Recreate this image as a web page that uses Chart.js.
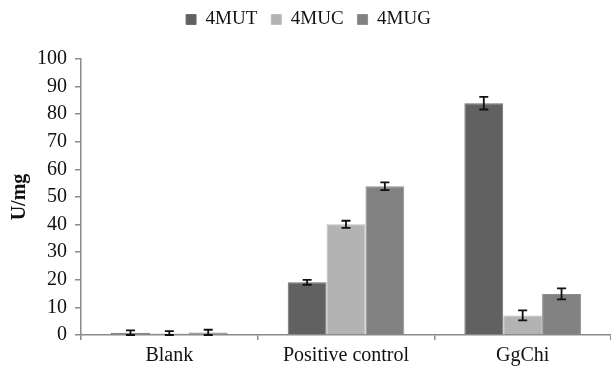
<!DOCTYPE html>
<html>
<head>
<meta charset="utf-8">
<script src="https://cdn.jsdelivr.net/npm/chart.js@4"></script>
<style>
html,body{margin:0;padding:0;background:#fff;}
</style>
</head>
<body>
<canvas id="c" width="611" height="367" style="display:block;width:611px;height:367px"></canvas>
<script>
const categories = ["Blank", "Positive control", "GgChi"];
const seriesNames = ["4MUT", "4MUC", "4MUG"];
const mut = [0.8, 19.1, 84.0];
const muc = [0.5, 40.1, 7.1];
const mug = [0.9, 53.9, 14.9];
const mutErr = [0.9, 0.9, 2.3];
const mucErr = [0.9, 1.3, 1.8];
const mugErr = [1.0, 1.4, 2.0];
const yTicks = [0, 10, 20, 30, 40, 50, 60, 70, 80, 90, 100];

const FONT = "'Liberation Serif', 'Times New Roman', serif";
const fills = ["#616161", "#b3b3b3", "#818181"];
const borders = ["#6e6e6e", "#bdbdbd", "#8f8f8f"];

const errorBars = {
  id: 'errorBars',
  afterDatasetsDraw(chart) {
    const ctx = chart.ctx;
    const y = chart.scales.y;
    ctx.save();
    ctx.strokeStyle = '#111';
    ctx.lineWidth = 1.8;
    chart.data.datasets.forEach((ds, i) => {
      const meta = chart.getDatasetMeta(i);
      meta.data.forEach((bar, j) => {
        const v = ds.data[j], e = ds.errors[j];
        const x = bar.x;
        const top = y.getPixelForValue(v + e);
        const bot = y.getPixelForValue(Math.max(v - e, 0));
        ctx.beginPath();
        ctx.moveTo(x, top); ctx.lineTo(x, bot);
        ctx.moveTo(x - 4.5, top); ctx.lineTo(x + 4.5, top);
        ctx.moveTo(x - 4.5, bot); ctx.lineTo(x + 4.5, bot);
        ctx.stroke();
      });
    });
    ctx.restore();
  }
};

const legendSpace = {
  id: 'legendSpace',
  beforeInit(chart) {
    const orig = chart.legend.fit;
    chart.legend.fit = function() {
      orig.call(this);
      this.height += 20;
    };
  }
};

new Chart(document.getElementById('c'), {
  type: 'bar',
  data: {
    labels: categories,
    datasets: [
      {label: seriesNames[0], data: mut, errors: mutErr, backgroundColor: fills[0], borderColor: borders[0], borderWidth: 1},
      {label: seriesNames[1], data: muc, errors: mucErr, backgroundColor: fills[1], borderColor: borders[1], borderWidth: 1},
      {label: seriesNames[2], data: mug, errors: mugErr, backgroundColor: fills[2], borderColor: borders[2], borderWidth: 1}
    ]
  },
  options: {
    responsive: false,
    animation: false,
    devicePixelRatio: 1,
    layout: {padding: {top: -4, right: 0, left: 6, bottom: -5}},
    datasets: {bar: {categoryPercentage: 0.66, barPercentage: 1.0}},
    plugins: {
      legend: {
        position: 'top',
        labels: {
          font: {family: FONT, size: 19},
          color: '#111',
          boxWidth: 10, boxHeight: 10,
          padding: 14
        }
      },
      tooltip: {enabled: false}
    },
    scales: {
      x: {
        offset: true,
        grid: {display: true, drawOnChartArea: false, offset: true, tickLength: 5, color: '#8a8a8a', lineWidth: 1.5},
        border: {display: true, color: '#8a8a8a', width: 1.5},
        ticks: {font: {family: FONT, size: 20}, color: '#111', padding: 4, maxRotation: 0}
      },
      y: {
        min: 0, max: 100,
        afterBuildTicks(axis) { axis.ticks = yTicks.map(v => ({value: v})); },
        grid: {display: true, drawOnChartArea: false, tickLength: 6, color: '#8a8a8a', lineWidth: 1.5},
        border: {display: true, color: '#8a8a8a', width: 1.5},
        ticks: {font: {family: FONT, size: 20}, color: '#111', padding: 8},
        title: {display: true, text: 'U/mg', font: {family: FONT, size: 20, weight: 'bold'}, color: '#111', padding: {top: 2, bottom: -3}}
      }
    }
  },
  plugins: [errorBars, legendSpace]
});
</script>
</body>
</html>
